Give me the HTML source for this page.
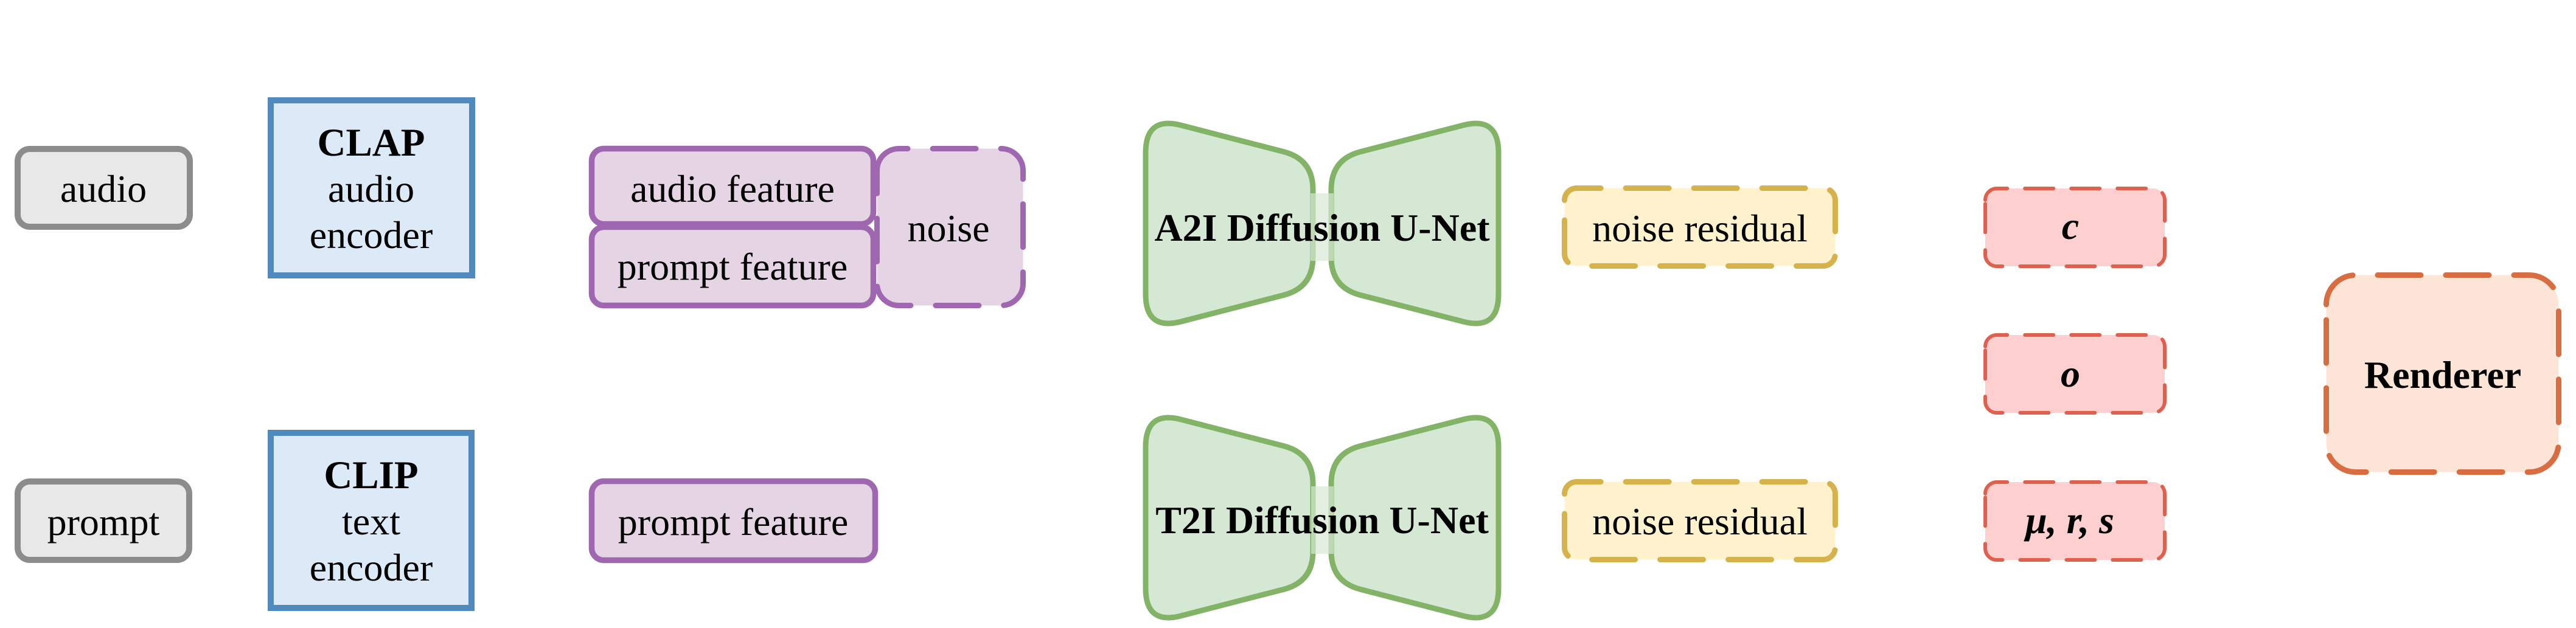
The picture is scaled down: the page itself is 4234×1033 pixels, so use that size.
<!DOCTYPE html>
<html>
<head>
<meta charset="utf-8">
<style>
html,body{margin:0;padding:0;background:#fff;}
svg{display:block;}
text{font-family:"Liberation Serif","Times New Roman",serif;fill:#000;}
</style>
</head>
<body>
<svg width="4234" height="1033" viewBox="0 0 4234 1033" xmlns="http://www.w3.org/2000/svg" font-family="Liberation Serif, Times New Roman, serif">
  <!-- audio input -->
  <rect x="29" y="245" width="283" height="128" rx="20" ry="20" fill="#e8e8e8" stroke="#8c8c8c" stroke-width="10"/>
  <text x="170" y="332" font-size="64" text-anchor="middle" font-family="Liberation Serif, serif">audio</text>

  <!-- prompt input -->
  <rect x="29" y="792" width="282" height="129" rx="20" ry="20" fill="#e8e8e8" stroke="#8c8c8c" stroke-width="10"/>
  <text x="170" y="880" font-size="64" text-anchor="middle" font-family="Liberation Serif, serif">prompt</text>

  <!-- CLAP -->
  <rect x="445" y="165" width="331" height="288" fill="#dce9f7" stroke="#4f8abf" stroke-width="10"/>
  <text x="610" y="256" font-size="65" font-weight="bold" text-anchor="middle" font-family="Liberation Serif, serif">CLAP</text>
  <text x="610" y="332" font-size="64" text-anchor="middle" font-family="Liberation Serif, serif">audio</text>
  <text x="610" y="408" font-size="64" text-anchor="middle" font-family="Liberation Serif, serif">encoder</text>

  <!-- CLIP -->
  <rect x="445" y="712" width="330" height="288" fill="#dce9f7" stroke="#4f8abf" stroke-width="10"/>
  <text x="610" y="803" font-size="65" font-weight="bold" text-anchor="middle" font-family="Liberation Serif, serif">CLIP</text>
  <text x="610" y="879" font-size="64" text-anchor="middle" font-family="Liberation Serif, serif">text</text>
  <text x="610" y="955" font-size="64" text-anchor="middle" font-family="Liberation Serif, serif">encoder</text>

  <!-- noise (dashed purple) -->
  <path d="M1441.5,280.5 A36,36 0 0 1 1477.5,244.5 H1645.5 A36,36 0 0 1 1681.5,280.5 V466.5 A36,36 0 0 1 1645.5,502.5 H1477.5 A36,36 0 0 1 1441.5,466.5 Z"
        fill="#e5d4e4" stroke="#a067b1" stroke-width="9" stroke-dasharray="71 41" stroke-linecap="round"/>
  <text x="1559" y="397" font-size="64" text-anchor="middle" font-family="Liberation Serif, serif">noise</text>

  <!-- audio feature / prompt feature -->
  <rect x="972.5" y="244.5" width="463" height="124" rx="20" ry="20" fill="#e5d4e4" stroke="#a067b1" stroke-width="9.5"/>
  <text x="1204" y="332" font-size="64" text-anchor="middle" font-family="Liberation Serif, serif">audio feature</text>
  <rect x="972.5" y="373.5" width="463" height="129" rx="20" ry="20" fill="#e5d4e4" stroke="#a067b1" stroke-width="9.5"/>
  <text x="1204" y="460" font-size="64" text-anchor="middle" font-family="Liberation Serif, serif">prompt feature</text>

  <!-- bottom prompt feature -->
  <rect x="972.5" y="791.5" width="466" height="130" rx="20" ry="20" fill="#e5d4e4" stroke="#a067b1" stroke-width="9.5"/>
  <text x="1205" y="880" font-size="64" text-anchor="middle" font-family="Liberation Serif, serif">prompt feature</text>

  <!-- A2I U-Net -->
  <path d="M1883,484 L1883,251 Q1883,191 1941.1,206 L2109.6,249.5 Q2158,262 2158,312 L2158,423 Q2158,473 2109.6,485.5 L1941.1,529 Q1883,544 1883,484 Z"
        fill="#d5e8d4" stroke="#82b366" stroke-width="9"/>
  <path d="M2463,484 L2463,251 Q2463,191 2404.9,206 L2236.4,249.5 Q2188,262 2188,312 L2188,423 Q2188,473 2236.4,485.5 L2404.9,529 Q2463,544 2463,484 Z"
        fill="#d5e8d4" stroke="#82b366" stroke-width="9"/>
  <rect x="2154" y="318" width="38" height="111" fill="#d5e8d4" fill-opacity="0.7"/>
  <text x="2173" y="396" font-size="64" font-weight="bold" text-anchor="middle" font-family="Liberation Serif, serif">A2I Diffusion U-Net</text>

  <!-- T2I U-Net -->
  <path d="M1883,968 L1883,735 Q1883,675 1941.1,690 L2109.6,733.5 Q2158,746 2158,796 L2158,907 Q2158,957 2109.6,969.5 L1941.1,1013 Q1883,1028 1883,968 Z"
        fill="#d5e8d4" stroke="#82b366" stroke-width="9"/>
  <path d="M2463,968 L2463,735 Q2463,675 2404.9,690 L2236.4,733.5 Q2188,746 2188,796 L2188,907 Q2188,957 2236.4,969.5 L2404.9,1013 Q2463,1028 2463,968 Z"
        fill="#d5e8d4" stroke="#82b366" stroke-width="9"/>
  <rect x="2155" y="800" width="37" height="111" fill="#d5e8d4" fill-opacity="0.7"/>
  <text x="2173" y="877" font-size="64" font-weight="bold" text-anchor="middle" font-family="Liberation Serif, serif">T2I Diffusion U-Net</text>

  <!-- noise residual top -->
  <path d="M2571.5,329.5 A20,20 0 0 1 2591.5,309.5 H2996.5 A20,20 0 0 1 3016.5,329.5 V417.5 A20,20 0 0 1 2996.5,437.5 H2591.5 A20,20 0 0 1 2571.5,417.5 Z"
        fill="#fff2cc" stroke="#d5b24b" stroke-width="9" stroke-dasharray="71 41" stroke-linecap="round"/>
  <text x="2794" y="397" font-size="64" text-anchor="middle" font-family="Liberation Serif, serif">noise residual</text>

  <!-- noise residual bottom -->
  <path d="M2571.5,812.5 A20,20 0 0 1 2591.5,792.5 H2996.5 A20,20 0 0 1 3016.5,812.5 V900.5 A20,20 0 0 1 2996.5,920.5 H2591.5 A20,20 0 0 1 2571.5,900.5 Z"
        fill="#fff2cc" stroke="#d5b24b" stroke-width="9" stroke-dasharray="71 41" stroke-linecap="round"/>
  <text x="2794" y="879" font-size="64" text-anchor="middle" font-family="Liberation Serif, serif">noise residual</text>

  <!-- c -->
  <path d="M3263,329 A19,19 0 0 1 3282,310 H3539 A19,19 0 0 1 3558,329 V419 A19,19 0 0 1 3539,438 H3282 A19,19 0 0 1 3263,419 Z"
        fill="#fdcfcf" stroke="#e0604f" stroke-width="6" stroke-dasharray="47 29" stroke-linecap="round"/>
  <text x="3403" y="393" font-size="64" font-weight="bold" font-style="italic" text-anchor="middle" font-family="Liberation Serif, serif">c</text>

  <!-- o -->
  <path d="M3263,570 A19,19 0 0 1 3282,551 H3539 A19,19 0 0 1 3558,570 V660 A19,19 0 0 1 3539,679 H3282 A19,19 0 0 1 3263,660 Z"
        fill="#fdcfcf" stroke="#e0604f" stroke-width="6" stroke-dasharray="47 29" stroke-linecap="round"/>
  <text x="3403" y="636" font-size="64" font-weight="bold" font-style="italic" text-anchor="middle" font-family="Liberation Serif, serif">o</text>

  <!-- mu, r, s -->
  <path d="M3263,812 A19,19 0 0 1 3282,793 H3539 A19,19 0 0 1 3558,812 V902 A19,19 0 0 1 3539,921 H3282 A19,19 0 0 1 3263,902 Z"
        fill="#fdcfcf" stroke="#e0604f" stroke-width="6" stroke-dasharray="47 29" stroke-linecap="round"/>
  <text x="3402" y="877" font-size="64" font-weight="bold" font-style="italic" text-anchor="middle" font-family="Liberation Serif, serif">μ, r, s</text>

  <!-- Renderer -->
  <path d="M3823.5,501 A48.5,48.5 0 0 1 3872,452.5 H4157 A48.5,48.5 0 0 1 4205.5,501 V728 A48.5,48.5 0 0 1 4157,776.5 H3872 A48.5,48.5 0 0 1 3823.5,728 Z"
        fill="#fce4d6" stroke="#d76d40" stroke-width="9" stroke-dasharray="71 41" stroke-linecap="round"/>
  <text x="4015" y="638" font-size="64" font-weight="bold" text-anchor="middle" font-family="Liberation Serif, serif">Renderer</text>
</svg>
</body>
</html>
